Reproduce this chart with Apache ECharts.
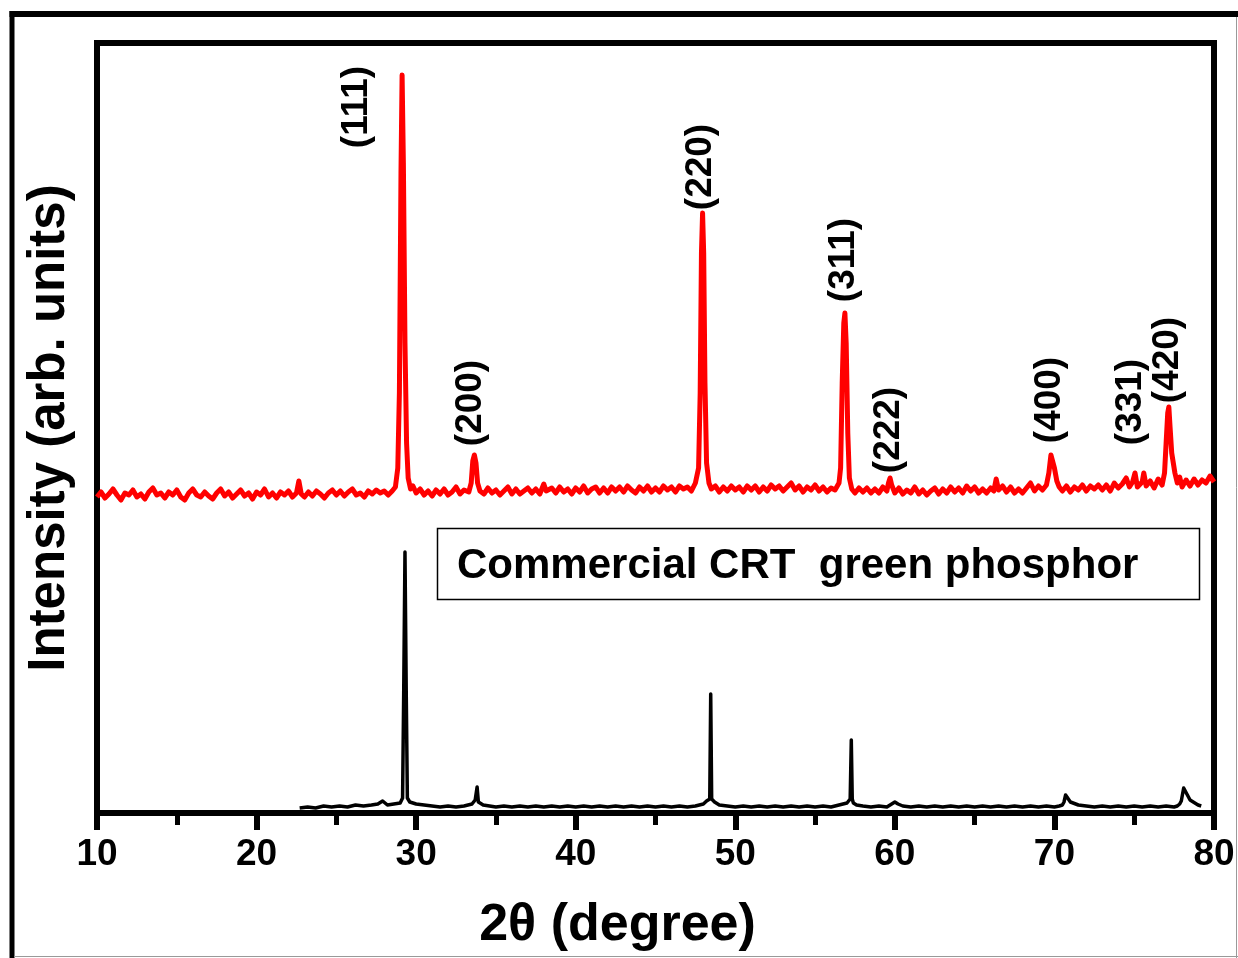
<!DOCTYPE html>
<html>
<head>
<meta charset="utf-8">
<script src="https://cdn.jsdelivr.net/npm/echarts@6/dist/echarts.min.js"></script>
<style>
html,body{margin:0;padding:0;background:#fff;}
#chart{width:1238px;height:958px;}
</style>
</head>
<body>
<div id="chart"></div>
<script>
// ---- Data (2θ in degrees, intensity in arbitrary units) ----
const xTicks = [10, 20, 30, 40, 50, 60, 70, 80];

// Sample (red, upper trace, offset baseline)
const redTheta = [10.0,10.25,10.5,10.75,11.0,11.25,11.5,11.75,12.0,12.25,12.5,12.75,13.0,13.25,13.5,13.75,14.0,14.25,14.5,14.75,15.0,15.25,15.5,15.75,16.0,16.25,16.5,16.75,17.0,17.25,17.5,17.75,18.0,18.25,18.5,18.75,19.0,19.25,19.5,19.75,20.0,20.25,20.5,20.75,21.0,21.25,21.5,21.75,22.0,22.25,22.5,22.65,22.8,23.0,23.25,23.5,23.75,24.0,24.25,24.5,24.75,25.0,25.25,25.5,25.75,26.0,26.25,26.5,26.75,27.0,27.25,27.5,27.75,28.0,28.25,28.5,28.7,28.85,28.95,29.05,29.12,29.2,29.3,29.4,29.5,29.65,29.8,30.0,30.25,30.5,30.75,31.0,31.25,31.5,31.75,32.0,32.25,32.5,32.75,33.0,33.3,33.45,33.55,33.65,33.75,33.85,34.0,34.25,34.5,34.75,35.0,35.25,35.5,35.75,36.0,36.25,36.5,36.75,37.0,37.25,37.5,37.75,38.0,38.15,38.5,38.75,39.0,39.25,39.5,39.75,40.0,40.25,40.5,40.75,41.0,41.25,41.5,41.75,42.0,42.25,42.5,42.75,43.0,43.25,43.5,43.75,44.0,44.25,44.5,44.75,45.0,45.25,45.5,45.75,46.0,46.25,46.5,46.75,47.0,47.25,47.5,47.7,47.8,47.88,47.95,48.02,48.1,48.2,48.35,48.5,48.75,49.0,49.25,49.5,49.75,50.0,50.25,50.5,50.75,51.0,51.25,51.5,51.75,52.0,52.25,52.5,52.75,53.0,53.25,53.5,53.75,54.0,54.25,54.5,54.75,55.0,55.25,55.5,55.75,56.0,56.25,56.5,56.6,56.7,56.8,56.87,56.95,57.05,57.15,57.3,57.5,57.75,58.0,58.25,58.5,58.75,59.0,59.25,59.5,59.6,59.7,59.8,60.0,60.25,60.5,60.75,61.0,61.25,61.5,61.75,62.0,62.25,62.5,62.75,63.0,63.25,63.5,63.75,64.0,64.25,64.5,64.75,65.0,65.25,65.5,65.75,66.0,66.2,66.35,66.5,66.75,67.0,67.25,67.5,67.75,68.0,68.25,68.5,68.75,69.0,69.25,69.5,69.65,69.78,69.9,70.0,70.15,70.3,70.5,70.75,71.0,71.25,71.5,71.75,72.0,72.25,72.5,72.75,73.0,73.25,73.5,73.75,74.0,74.25,74.5,74.7,74.9,75.05,75.2,75.5,75.6,75.75,76.0,76.25,76.5,76.75,76.9,77.0,77.1,77.17,77.25,77.35,77.45,77.55,77.7,77.85,78.0,78.25,78.5,78.75,79.0,79.25,79.5,79.75,80.0];
const redIntensity = [316,321,315,319,324,318,313,320,318,323,316,319,314,321,325,318,320,315,321,318,323,316,313,320,324,318,316,321,317,314,320,324,317,321,315,319,323,317,320,314,321,318,324,316,320,315,321,318,322,316,320,332,319,316,321,317,322,319,315,320,323,318,322,317,321,324,318,320,316,322,319,323,320,322,318,322,326,345,420,640,738,650,470,370,335,324,327,320,324,318,322,317,323,319,324,318,321,326,319,323,321,330,352,358,350,330,322,319,325,320,323,318,322,326,319,324,319,322,325,320,324,319,329,322,325,320,326,321,324,319,325,321,327,320,324,326,320,325,320,326,322,326,321,327,323,320,326,322,327,321,325,321,327,323,326,321,327,324,326,322,330,345,420,560,600,560,430,350,330,324,327,321,326,322,327,323,326,321,327,323,327,321,326,322,328,324,327,322,326,330,323,327,321,326,323,328,322,326,321,325,323,330,345,430,490,500,470,380,335,324,320,325,321,325,320,324,320,326,322,330,335,328,320,325,319,323,320,326,319,323,318,322,325,319,324,320,326,321,325,320,327,322,326,320,324,320,325,322,334,323,327,321,326,320,324,320,325,330,322,327,323,328,340,358,356,345,332,326,322,327,321,326,323,328,322,327,324,328,323,328,322,330,325,329,335,326,331,340,326,331,340,327,332,325,334,328,340,370,400,406,385,360,362,340,330,336,326,333,327,334,328,333,330,337,331];

// Commercial CRT green phosphor (black, lower trace)
const blackTheta = [22.7,23.2,23.7,24.2,24.7,25.2,25.7,26.2,26.7,27.2,27.6,27.9,28.2,28.6,29.0,29.15,29.22,29.3,29.38,29.45,29.6,30.0,30.5,31.0,31.5,32.0,32.5,33.0,33.5,33.7,33.82,33.9,34.2,34.6,35.0,35.5,36.0,36.5,37.0,37.5,38.0,38.5,39.0,39.5,40.0,40.5,41.0,41.5,42.0,42.5,43.0,43.5,44.0,44.5,45.0,45.5,46.0,46.5,47.0,47.5,48.0,48.2,48.4,48.46,48.52,48.7,49.0,49.5,50.0,50.5,51.0,51.5,52.0,52.5,53.0,53.5,54.0,54.5,55.0,55.5,56.0,56.5,57.0,57.2,57.27,57.33,57.4,57.6,58.0,58.5,59.0,59.5,59.8,60.0,60.2,60.5,61.0,61.5,62.0,62.5,63.0,63.5,64.0,64.5,65.0,65.5,66.0,66.5,67.0,67.5,68.0,68.5,69.0,69.5,70.0,70.3,70.5,70.6,70.7,71.0,71.5,72.0,72.5,73.0,73.5,74.0,74.5,75.0,75.5,76.0,76.5,77.0,77.5,77.7,77.85,77.95,78.1,78.5,79.0,79.2];
const blackIntensity = [5,6,5,7,6,7,6,8,7,8,9,12,8,9,10,15,120,261,120,15,11,9,8,7,6,7,6,7,9,13,26,11,8,7,6,7,6,7,6,7,6,7,6,7,6,7,6,7,6,7,6,7,6,7,6,7,6,7,6,7,9,12,14,119,14,11,8,7,6,7,6,7,6,7,6,7,6,7,6,7,6,8,10,14,73,14,10,8,7,6,7,6,9,11,9,7,6,7,6,7,6,7,6,7,6,7,6,7,6,7,6,7,6,7,6,7,8,11,18,11,8,7,6,7,6,7,6,7,6,7,6,7,6,7,9,12,25,13,8,7,6,5];

// Peak (hkl) labels: name, 2θ and intensity of label centre
const peakNames = ['(111)', '(200)', '(220)', '(311)', '(222)', '(400)', '(331)', '(420)'];
const peakTheta = [26.25, 33.45, 47.85, 56.8, 59.6, 69.7, 74.8, 77.1];
const peakLabelY = [706, 410, 646, 553, 383, 413, 411, 453];

const boxText = 'Commercial CRT  green phosphor';

// ---- Build ----
const zip = (a, b) => a.map((v, i) => [v, b[i]]);
const labelData = peakNames.map((n, i) => ({ name: n, value: [peakTheta[i], peakLabelY[i]] }));

const FONT = "'Liberation Sans', Arial, sans-serif";
const chart = echarts.init(document.getElementById('chart'), null, { renderer: 'canvas' });

const option = {
  animation: false,
  backgroundColor: '#fff',
  grid: {
    left: 97, right: 24, top: 43, bottom: 145,
    show: true, borderColor: '#000', borderWidth: 6, backgroundColor: 'transparent'
  },
  xAxis: {
    type: 'value', min: 10, max: 80, interval: 10,
    name: '2\u03b8 (degree)', nameLocation: 'middle', nameGap: 87,
    nameTextStyle: { fontFamily: FONT, fontWeight: 'bold', fontSize: 52, color: '#000', padding: [0, 76, 0, 0] },
    axisLine: { show: true, onZero: false, lineStyle: { color: '#000', width: 6 } },
    axisTick: { show: true, inside: false, length: 17, lineStyle: { color: '#000', width: 6 } },
    minorTick: { show: true, splitNumber: 2, length: 12, lineStyle: { color: '#000', width: 5 } },
    axisLabel: { show: true, margin: 23, fontFamily: FONT, fontWeight: 'bold', fontSize: 37, color: '#000',
      formatter: v => xTicks.includes(v) ? String(v) : '' },
    splitLine: { show: false }
  },
  yAxis: {
    type: 'value', min: 0, max: 770,
    name: 'Intensity (arb. units)', nameLocation: 'middle', nameGap: 22,
    nameTextStyle: { fontFamily: FONT, fontWeight: 'bold', fontSize: 51, color: '#000' },
    axisLine: { show: true, lineStyle: { color: '#000', width: 6 } },
    axisTick: { show: false }, axisLabel: { show: false }, splitLine: { show: false }
  },
  series: [
    {
      type: 'line', name: 'sample', data: zip(redTheta, redIntensity),
      showSymbol: false, symbol: 'none', smooth: false,
      lineStyle: { color: '#ff0000', width: 5, join: 'round' }, z: 3
    },
    {
      type: 'line', name: 'commercial', data: zip(blackTheta, blackIntensity),
      showSymbol: false, symbol: 'none', smooth: false,
      lineStyle: { color: '#000', width: 3.5, join: 'round' }, z: 2
    },
    {
      type: 'scatter', name: 'labels', data: labelData, symbolSize: 0, silent: true,
      itemStyle: { opacity: 1 },
      label: {
        show: true, position: 'inside', rotate: 90, formatter: p => p.name,
        fontFamily: FONT, fontWeight: 'bold', fontSize: 37, color: '#000',
        textBorderWidth: 0, align: 'center', verticalAlign: 'middle'
      },
      z: 4
    }
  ],
  graphic: [
    { type: 'line', shape: { x1: 12, y1: 11, x2: 12, y2: 960 }, style: { stroke: '#000', lineWidth: 5 }, z: 10 },
    { type: 'line', shape: { x1: 9.5, y1: 14, x2: 1240, y2: 14 }, style: { stroke: '#000', lineWidth: 6 }, z: 10 },
    { type: 'line', shape: { x1: 1236.5, y1: 17, x2: 1236.5, y2: 958 }, style: { stroke: '#999', lineWidth: 1 }, z: 10 },
    { type: 'line', shape: { x1: 14, y1: 956.5, x2: 1238, y2: 956.5 }, style: { stroke: '#999', lineWidth: 1 }, z: 10 },
    { type: 'rect', shape: { x: 437.5, y: 528.5, width: 762, height: 71 },
      style: { fill: '#fff', stroke: '#000', lineWidth: 1.5 }, z: 10 },
    { type: 'text', x: 457, y: 566,
      style: { text: boxText, fontFamily: FONT, fontWeight: 'bold', fontSize: 42, fill: '#000', verticalAlign: 'middle' }, z: 11 }
  ]
};
chart.setOption(option);
</script>
</body>
</html>
